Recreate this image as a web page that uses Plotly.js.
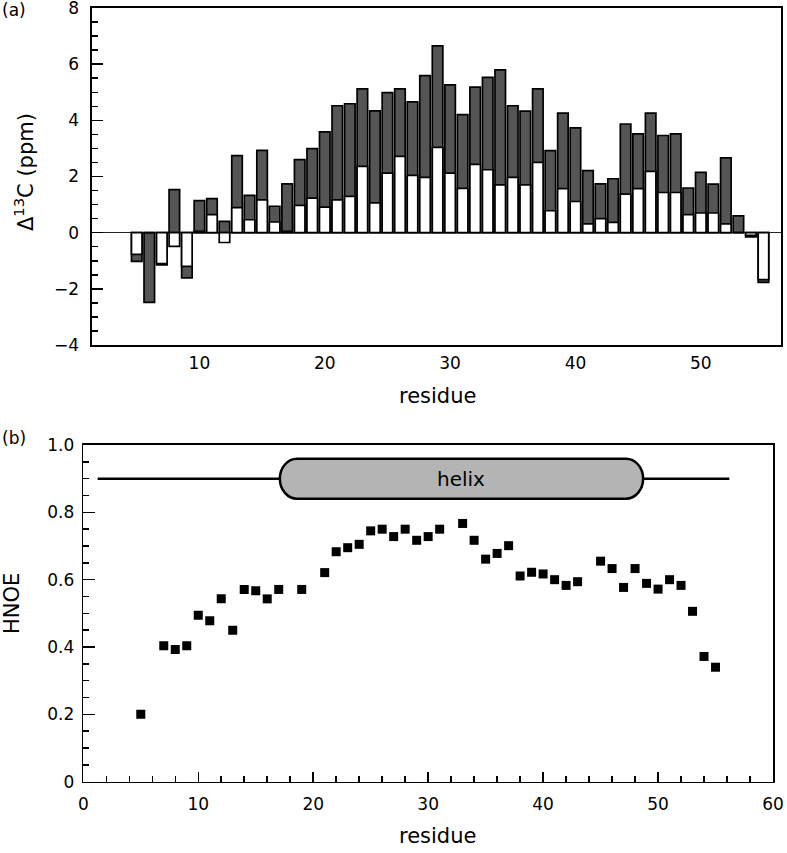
<!DOCTYPE html>
<html>
<head>
<meta charset="utf-8">
<script src="https://cdn.plot.ly/plotly-3.0.1.min.js"></script>
<style>html,body{margin:0;padding:0;background:#fff;}#chart{width:787px;height:853px;}</style>
</head>
<body>
<div id="chart"></div>
<script>
// ---- Panel (a): secondary 13C chemical shifts per residue ----
const residues13C = [5,6,7,8,9,10,11,12,13,14,15,16,17,18,19,20,21,22,23,24,25,26,27,28,29,30,
  31,32,33,34,35,36,37,38,39,40,41,42,43,44,45,46,47,48,49,50,51,52,53,54,55];
const shiftDark = [-1.02,-2.48,-1.15,1.53,-1.61,1.14,1.21,0.40,2.74,1.33,2.93,0.94,1.74,2.60,2.99,3.59,
  4.52,4.59,5.12,4.34,4.99,5.12,4.66,5.59,6.65,5.26,4.20,5.18,5.53,5.80,4.52,4.33,5.12,2.92,4.26,3.73,
  2.21,1.74,1.92,3.87,3.52,4.26,3.46,3.52,1.59,2.15,1.73,2.66,0.60,-0.15,-1.77];
const shiftLight = [-0.77,0.00,-1.10,-0.49,-1.20,0.05,0.64,-0.35,0.89,0.46,1.17,0.38,0.05,0.97,1.23,0.91,
  1.17,1.29,2.36,1.06,2.12,2.72,2.04,1.97,3.04,2.12,1.58,2.43,2.24,1.70,1.97,1.70,2.50,0.78,1.57,1.11,
  0.31,0.50,0.37,1.37,1.57,2.18,1.43,1.43,0.64,0.70,0.70,0.31,0.00,-0.10,-1.67];
const shiftTicks = [-4,-2,0,2,4,6,8];
const residueTicksA = [10,20,30,40,50];

// ---- Panel (b): heteronuclear NOE ----
const noeResidues = [5,7,8,9,10,11,12,13,14,15,16,17,19,21,22,23,24,25,26,27,28,29,30,31,33,34,35,36,37,
  38,39,40,41,42,43,45,46,47,48,49,50,51,52,53,54,55];
const noeValues = [0.200,0.404,0.393,0.404,0.494,0.478,0.543,0.450,0.571,0.567,0.543,0.571,0.571,0.621,
  0.683,0.695,0.705,0.745,0.750,0.728,0.750,0.717,0.728,0.750,0.767,0.717,0.661,0.678,0.701,0.611,0.622,
  0.617,0.600,0.583,0.594,0.655,0.633,0.577,0.633,0.589,0.572,0.600,0.583,0.506,0.372,0.340];
const noeTicks = [0,0.2,0.4,0.6,0.8,1.0];
const noeTickText = ['0','0.2','0.4','0.6','0.8','1.0'];

// secondary structure (residue spans) and its label
const coilSpan = [1.25, 56.2];
const helixSpan = [17.1, 48.7];
const structureLevel = 0.9;
const helixLabel = "helix";

(function(){
const W = 787, H = 853;
const px = v => v / W;
const py = v => 1 - v / H;

const FONT = "DejaVu Sans, sans-serif";

const traces = [
  {type:'bar', x:residues13C, y:shiftDark, width:0.84, xaxis:'x', yaxis:'y',
   marker:{color:'#555555', line:{color:'#000', width:1.7}}, hoverinfo:'x+y', showlegend:false},
  {type:'bar', x:residues13C, y:shiftLight, width:0.84, xaxis:'x', yaxis:'y',
   marker:{color:'#ffffff', line:{color:'#000', width:1.7}}, hoverinfo:'x+y', showlegend:false},
  {type:'scatter', mode:'markers', x:noeResidues, y:noeValues, xaxis:'x2', yaxis:'y2',
   marker:{symbol:'square', size:9, color:'#000'}, showlegend:false}
];

// capsule path for helix
const hx0 = helixSpan[0], hx1 = helixSpan[1];
const hy = structureLevel, ry = 0.0595, rx = 1.5, k = 0.5523;
const yTop = hy + ry, yBot = hy - ry;
const capsule = `M ${hx0+rx},${yTop} L ${hx1-rx},${yTop} ` +
  `C ${hx1-rx+k*rx},${yTop} ${hx1},${hy+k*ry} ${hx1},${hy} ` +
  `C ${hx1},${hy-k*ry} ${hx1-rx+k*rx},${yBot} ${hx1-rx},${yBot} ` +
  `L ${hx0+rx},${yBot} ` +
  `C ${hx0+rx-k*rx},${yBot} ${hx0},${hy-k*ry} ${hx0},${hy} ` +
  `C ${hx0},${hy+k*ry} ${hx0+rx-k*rx},${yTop} ${hx0+rx},${yTop} Z`;

const tickFont = {family:FONT, size:17, color:'#000'};
const titleFont = {family:FONT, size:21, color:'#000'};

const rangeA = [-4.0001, 8.0001];
const rangeB = [-0.00001, 1.00001];
const domA = [py(345), py(8)];
const domB = [py(781.7), py(445)];

const yTicksA = {ticks:'inside', ticklen:11, tickwidth:1.5, tickcolor:'#000',
  minor:{dtick:0.5, tick0:0, ticks:'inside', ticklen:6, tickwidth:1.5, tickcolor:'#000'}};
const yTicksB = {ticks:'inside', ticklen:12, tickwidth:1.5, tickcolor:'#000',
  minor:{dtick:0.05, tick0:0, ticks:'inside', ticklen:6, tickwidth:1.5, tickcolor:'#000'}};

const layout = {
  width:W, height:H,
  margin:{l:0, r:0, t:0, b:0},
  paper_bgcolor:'#fff', plot_bgcolor:'#fff',
  barmode:'overlay', bargap:0,
  showlegend:false,
  xaxis:{domain:[px(92), px(781)], range:[1.43, 56.4], anchor:'y',
    tickvals:residueTicksA, ticks:'', showgrid:false, zeroline:false,
    showline:true, linecolor:'#000', linewidth:1.6, mirror:true,
    tickfont:tickFont, ticklabelstandoff:2, ticklabeloverflow:'allow'},
  yaxis:Object.assign({domain:domA, range:rangeA, anchor:'x', tickvals:shiftTicks,
    showgrid:false, zeroline:true, zerolinecolor:'#222', zerolinewidth:1,
    showline:true, linecolor:'#000', linewidth:1.6, mirror:true,
    tickfont:tickFont, ticklabelstandoff:8, ticklabeloverflow:'allow'}, yTicksA),
  yaxis3:Object.assign({domain:domA, range:rangeA, overlaying:'y', side:'right', anchor:'x',
    tickvals:shiftTicks, showticklabels:false, showgrid:false, zeroline:false, showline:false}, yTicksA),
  xaxis2:{domain:[px(83.3), px(773)], range:[0, 60], anchor:'y2',
    dtick:10, tick0:0, ticks:'inside', ticklen:10, tickwidth:1.5, tickcolor:'#000',
    minor:{dtick:2, ticks:'inside', ticklen:6, tickwidth:1.5, tickcolor:'#000'},
    showgrid:false, zeroline:false,
    showline:true, linecolor:'#000', linewidth:1.6, mirror:true,
    tickfont:tickFont, ticklabelstandoff:6, ticklabeloverflow:'allow'},
  yaxis2:Object.assign({domain:domB, range:rangeB, anchor:'x2',
    tickvals:noeTicks, ticktext:noeTickText,
    showgrid:false, zeroline:false,
    showline:true, linecolor:'#000', linewidth:1.6, mirror:true,
    tickfont:tickFont, ticklabelstandoff:4, ticklabeloverflow:'allow'}, yTicksB),
  yaxis4:Object.assign({domain:domB, range:rangeB, overlaying:'y2', side:'right', anchor:'x2',
    tickvals:noeTicks, showticklabels:false, showgrid:false, zeroline:false, showline:false}, yTicksB),
  shapes:[
    {type:'line', xref:'x2', yref:'y2', x0:coilSpan[0], x1:coilSpan[1], y0:structureLevel, y1:structureLevel,
     line:{color:'#000', width:2.5}},
    {type:'path', xref:'x2', yref:'y2', path:capsule, fillcolor:'#b4b4b4', line:{color:'#000', width:2.5}}
  ],
  annotations:[
    {xref:'x2', yref:'y2', x:(hx0+hx1)/2, y:structureLevel, text:helixLabel, showarrow:false,
     font:{family:FONT, size:20, color:'#000'}, xanchor:'center', yanchor:'middle'},
    {xref:'paper', yref:'paper', x:px(0), y:py(10), text:'(a)', showarrow:false, xanchor:'left', yanchor:'middle',
     font:{family:FONT, size:17, color:'#000'}},
    {xref:'paper', yref:'paper', x:px(0), y:py(438), text:'(b)', showarrow:false, xanchor:'left', yanchor:'middle',
     font:{family:FONT, size:17, color:'#000'}},
    {xref:'paper', yref:'paper', x:px(24), y:py(172), text:'Δ<sup>13</sup>C (ppm)', textangle:-90, showarrow:false,
     xanchor:'center', yanchor:'middle', font:titleFont},
    {xref:'paper', yref:'paper', x:px(437), y:py(396), text:'residue', showarrow:false,
     xanchor:'center', yanchor:'middle', font:titleFont},
    {xref:'paper', yref:'paper', x:px(12), y:py(604), text:'HNOE', textangle:-90, showarrow:false,
     xanchor:'center', yanchor:'middle', font:titleFont},
    {xref:'paper', yref:'paper', x:px(437), y:py(836), text:'residue', showarrow:false,
     xanchor:'center', yanchor:'middle', font:titleFont}
  ]
};

Plotly.newPlot('chart', traces, layout, {staticPlot:true, displayModeBar:false});
})();
</script>
</body>
</html>
